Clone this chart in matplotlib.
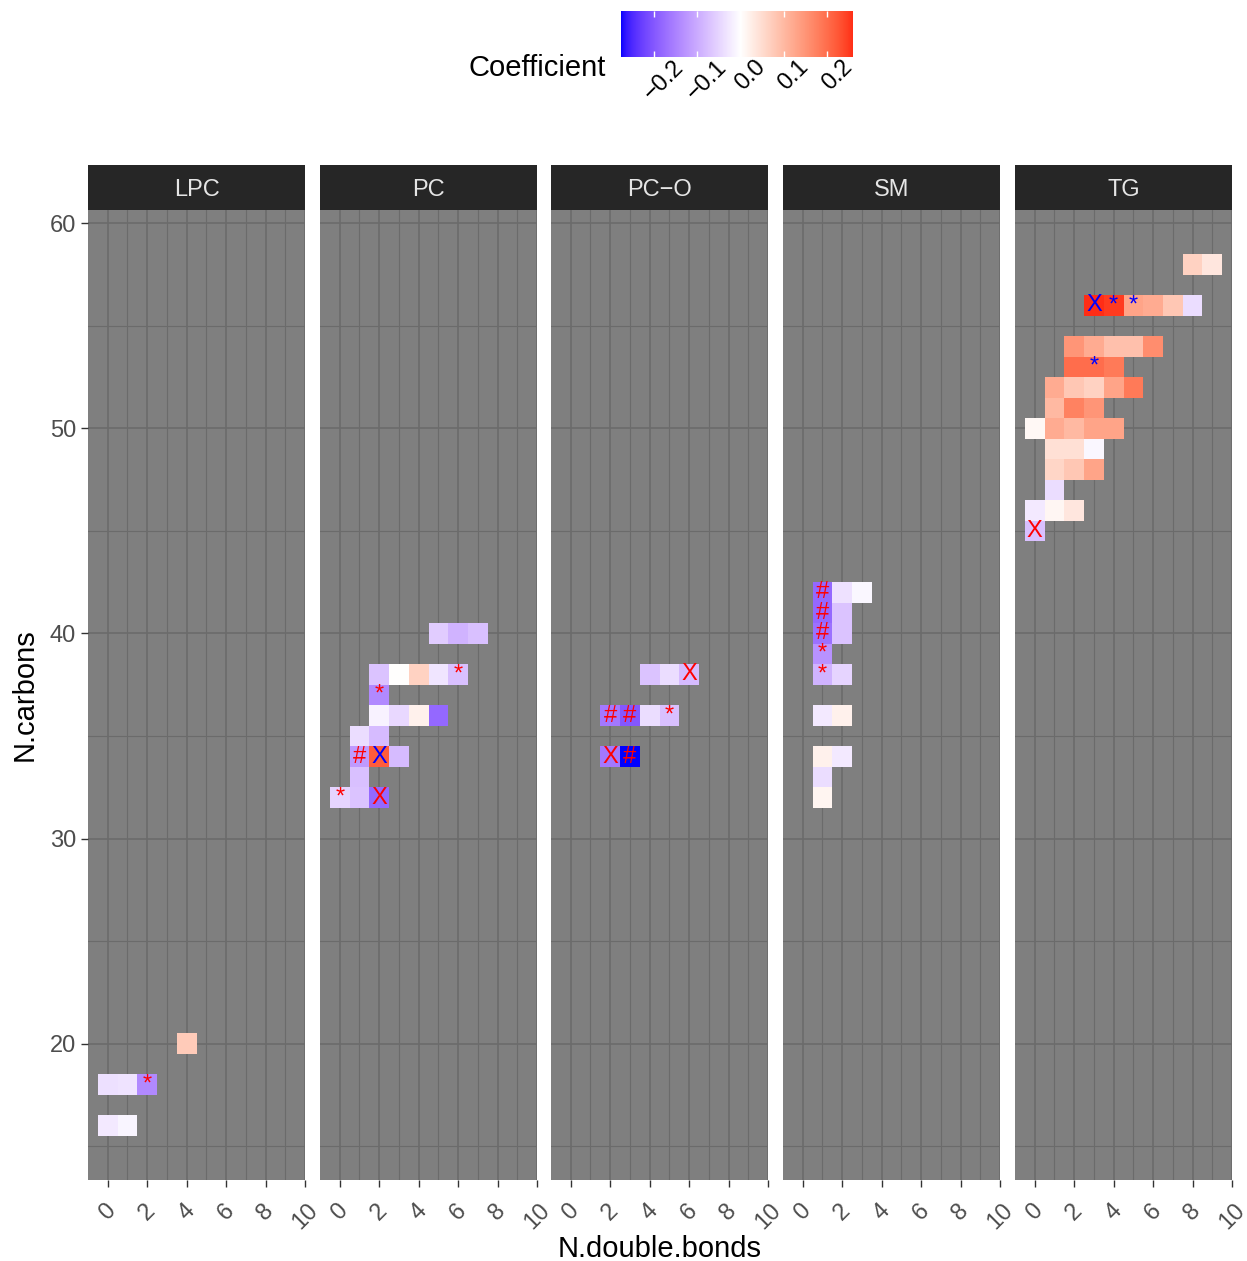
import numpy as np
import matplotlib
matplotlib.use('Agg')
import matplotlib.pyplot as plt
from matplotlib.colors import ListedColormap, Normalize
from matplotlib.transforms import ScaledTranslation


#### DATA ####
# (n double bonds, n carbons, coefficient, significance mark)
classes = ['LPC', 'PC', 'PC\u2212O', 'SM', 'TG']

lpc = [(0, 16, -0.025, ''), (1, 16, -0.012, ''),
       (0, 18, -0.036, ''), (1, 18, -0.033, ''), (2, 18, -0.14, '*'),
       (4, 20, 0.075, '')]

pc = [(0, 32, -0.05, '*'), (1, 32, -0.07, ''), (2, 32, -0.18, 'X'),
      (1, 33, -0.075, ''),
      (1, 34, -0.12, '#'), (2, 34, 0.22, 'X'), (3, 34, -0.08, ''),
      (1, 35, -0.04, ''), (2, 35, -0.08, ''),
      (2, 36, -0.015, ''), (3, 36, -0.045, ''), (4, 36, 0.02, ''), (5, 36, -0.18, ''),
      (2, 37, -0.14, '*'),
      (2, 38, -0.07, ''), (3, 38, 0.002, ''), (4, 38, 0.065, ''), (5, 38, -0.03, ''), (6, 38, -0.075, '*'),
      (5, 40, -0.06, ''), (6, 40, -0.09, ''), (7, 40, -0.075, '')]

pc_o = [(2, 34, -0.16, 'X'), (3, 34, -0.276, '#'),
        (2, 36, -0.16, '#'), (3, 36, -0.2, '#'), (4, 36, -0.04, ''), (5, 36, -0.075, '*'),
        (4, 38, -0.07, ''), (5, 38, -0.04, ''), (6, 38, -0.08, 'X')]

sm = [(1, 32, 0.015, ''),
      (1, 33, -0.04, ''),
      (1, 34, 0.02, ''), (2, 34, -0.025, ''),
      (1, 36, -0.025, ''), (2, 36, 0.02, ''),
      (1, 38, -0.09, '*'), (2, 38, -0.05, ''),
      (1, 39, -0.13, '*'),
      (1, 40, -0.17, '#'), (2, 40, -0.07, ''),
      (1, 41, -0.18, '#'), (2, 41, -0.07, ''),
      (1, 42, -0.18, '#'), (2, 42, -0.035, ''), (3, 42, -0.01, '')]

tg = [(0, 45, -0.075, 'X'),
      (0, 46, -0.025, ''), (1, 46, 0.012, ''), (2, 46, 0.035, ''),
      (1, 47, -0.04, ''),
      (1, 48, 0.06, ''), (2, 48, 0.08, ''), (3, 48, 0.13, ''),
      (1, 49, 0.045, ''), (2, 49, 0.045, ''), (3, 49, -0.01, ''),
      (0, 50, 0.01, ''), (1, 50, 0.12, ''), (2, 50, 0.1, ''), (3, 50, 0.13, ''), (4, 50, 0.13, ''),
      (1, 51, 0.1, ''), (2, 51, 0.175, ''), (3, 51, 0.15, ''),
      (1, 52, 0.12, ''), (2, 52, 0.08, ''), (3, 52, 0.065, ''), (4, 52, 0.13, ''), (5, 52, 0.185, ''),
      (2, 53, 0.2, ''), (3, 53, 0.2, '*'), (4, 53, 0.185, ''),
      (2, 54, 0.15, ''), (3, 54, 0.12, ''), (4, 54, 0.09, ''), (5, 54, 0.09, ''), (6, 54, 0.16, ''),
      (3, 56, 0.26, 'X'), (4, 56, 0.25, '*'), (5, 56, 0.13, '*'), (6, 56, 0.12, ''),
      (7, 56, 0.08, ''), (8, 56, -0.04, ''),
      (8, 58, 0.065, ''), (9, 58, 0.035, '')]

panel_data = [lpc, pc, pc_o, sm, tg]
cbar_ticks = [-0.2, -0.1, 0.0, 0.1, 0.2]


#### COLOUR SCALE (blue-white-red, interpolated in CIELAB like ggplot) ####
M = np.array([[0.4124, 0.3576, 0.1805], [0.2126, 0.7152, 0.0722], [0.0193, 0.1192, 0.9505]])
WHITE = np.array([0.95047, 1.0, 1.08883])

def to_lab(rgb):
    rgb = np.asarray(rgb, float)
    lin = np.where(rgb <= 0.04045, rgb / 12.92, ((rgb + 0.055) / 1.055) ** 2.4)
    xyz = M @ lin / WHITE
    f = np.where(xyz > 216 / 24389, np.cbrt(xyz), (24389 / 27 * xyz + 16) / 116)
    return np.array([116 * f[1] - 16, 500 * (f[0] - f[1]), 200 * (f[1] - f[2])])

def from_lab(lab):
    L, a, b = lab
    fy = (L + 16) / 116
    f = np.array([fy + a / 500, fy, fy - b / 200])
    xyz = np.where(f ** 3 > 216 / 24389, f ** 3, (116 * f - 16) / (24389 / 27)) * WHITE
    lin = np.linalg.solve(M, xyz)
    rgb = np.where(lin <= 0.0031308, 12.92 * lin, 1.055 * np.clip(lin, 0, None) ** (1 / 2.4) - 0.055)
    return np.clip(rgb, 0, 1)

all_vals = [r[2] for d in panel_data for r in d]
vmin, vmax = min(all_vals), max(all_vals)
span = max(abs(vmin), abs(vmax))
lab_w, lab_b, lab_r = to_lab([1, 1, 1]), to_lab([0, 0, 1]), to_lab([1, 0, 0])
cols = []
for v in np.linspace(vmin, vmax, 512):
    t = abs(v) / span
    end = lab_b if v < 0 else lab_r
    cols.append(from_lab(lab_w + (end - lab_w) * t))
cmap = ListedColormap(cols)
norm = Normalize(vmin=vmin, vmax=vmax)


#### FIGURE ####
plt.rcParams['font.family'] = ['Liberation Sans', 'DejaVu Sans']
W, H = 1247, 1261
fig = plt.figure(figsize=(W / 100, H / 100), dpi=100)

def px_axes(x0, y0, w, h):
    return fig.add_axes([x0 / W, 1 - (y0 + h) / H, w / W, h / H])

mark_size = {'*': 17, 'X': 17, '#': 17}
lefts = [88, 320, 551, 783, 1015]
xe = np.arange(-0.5, 10.5, 1)
ye = np.arange(15.5, 59.5, 1)
mesh = None
for i, (name, data, left) in enumerate(zip(classes, panel_data, lefts)):
    ax = px_axes(left, 210, 217, 970)
    ax.set_facecolor('#7F7F7F')
    grid = np.full((len(ye) - 1, len(xe) - 1), np.nan)
    for db, c, v, mark in data:
        grid[c - 16, db] = v
    mesh = ax.pcolormesh(xe, ye, np.ma.masked_invalid(grid), cmap=cmap, norm=norm,
                         antialiased=False, zorder=2)
    for db, c, v, mark in data:
        if mark:
            ax.text(db, c, mark, color='#0000FF' if v > 0 else '#FF0000',
                    ha='center', va='center', fontsize=mark_size[mark], zorder=3)
    ax.set_xlim(-1.0, 10.0)
    ax.set_ylim(13.35, 60.65)
    ax.set_xticks(range(0, 11, 2))
    ax.set_xticks(range(1, 10, 2), minor=True)
    ax.set_yticks(range(20, 61, 10))
    ax.set_yticks(range(15, 60, 10), minor=True)
    ax.grid(which='major', color='#6B6B6B', linewidth=1.2, zorder=1)
    ax.grid(which='minor', color='#6B6B6B', linewidth=0.8, zorder=1)
    ax.set_axisbelow(True)
    for s in ax.spines.values():
        s.set_visible(False)
    ax.tick_params(which='minor', length=0)
    ax.tick_params(which='major', color='#333333', length=5, width=1,
                   labelsize=17, labelcolor='#4D4D4D')
    ax.tick_params(axis='x', pad=9)
    for lab in ax.get_xticklabels():
        lab.set_rotation(45)
        lab.set_ha('center')
        lab.set_va('top')
    if i > 0:
        ax.tick_params(axis='y', left=False, labelleft=False)

    sx = px_axes(left, 165, 217, 45)
    sx.set_facecolor('#262626')
    sx.set_xticks([])
    sx.set_yticks([])
    for s in sx.spines.values():
        s.set_visible(False)
    sx.text(0.5, 0.45, name, color='#E5E5E5', fontsize=17, ha='center', va='center',
            transform=sx.transAxes)

fig.text(25 / W, 1 - 695 / H, 'N.carbons', rotation=90, fontsize=21, ha='center', va='center')
fig.text(660 / W, 1 - 1249 / H, 'N.double.bonds', fontsize=21, ha='center', va='center')

# legend
cax = px_axes(621, 11, 232, 46)
cb = fig.colorbar(mesh, cax=cax, orientation='horizontal', ticks=cbar_ticks)
cb.outline.set_visible(False)
cb.set_ticklabels([f'{t:.1f}'.replace('-', '\u2212') for t in cbar_ticks])
cax.tick_params(direction='in', color='white', length=4, width=1, top=True, bottom=True,
                labelsize=17, labelcolor='black', pad=2)
shift = ScaledTranslation(10 / 100, 4 / 100, fig.dpi_scale_trans)
for lab in cax.get_xticklabels():
    lab.set_rotation(45)
    lab.set_ha('center')
    lab.set_va('top')
    lab.set_transform(lab.get_transform() + shift)
fig.text(606 / W, 1 - 68 / H, 'Coefficient', fontsize=21, ha='right', va='center')

fig.savefig('out.png', dpi=100)
